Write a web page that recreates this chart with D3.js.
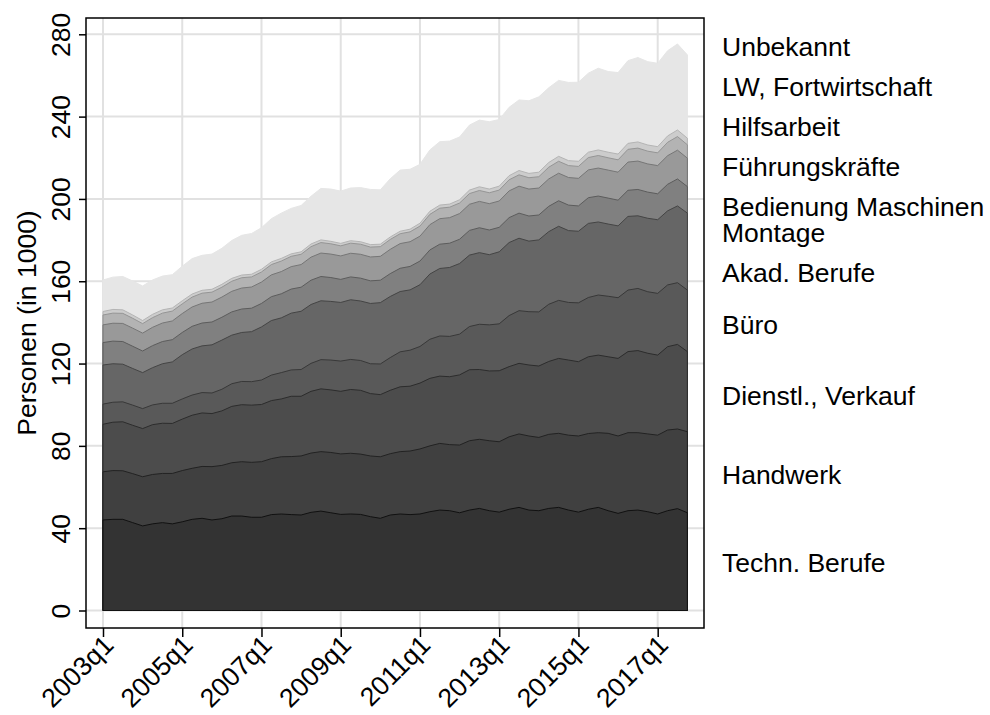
<!DOCTYPE html>
<meta charset="utf-8">
<style>
body { margin: 0; background: #fff; }
text { font-family: "Liberation Sans", Arial, Helvetica, sans-serif; fill: #000; }
</style>

<svg width="990" height="715"></svg>

<script src="https://d3js.org/d3.v7.min.js"></script>
<script>

// quarters 2003q1 .. 2017q4
var years = d3.range(2003, 2018);
var quarters = [];
years.forEach(function(y) {
  [1, 2, 3, 4].forEach(function(q) { quarters.push(y + "q" + q); });
});

var tickLabels = ["2003q1", "2005q1", "2007q1", "2009q1", "2011q1", "2013q1", "2015q1", "2017q1"];
var yTicks = [0, 40, 80, 120, 160, 200, 240, 280];

// persons in 1000, one value per quarter, stacked bottom to top
var techn = [44.0,44.3,44.3,42.7,41.1,42.1,42.7,42.1,43.1,44.3, 44.8,44.0,44.6,45.9,45.9,45.3,45.3,46.6,46.9,46.6,
  46.4,47.7,48.3,47.5,46.7,46.9,46.7,45.6,44.8,46.4, 46.9,46.6,46.9,48.0,48.8,48.5,47.5,48.8,49.6,48.5,
  47.8,49.2,50.1,48.8,48.5,49.6,50.1,48.8,47.8,49.2, 50.1,48.5,47.2,48.5,48.8,48.0,46.9,48.5,49.5,47.5];
var handwerk = [23.4,23.7,23.6,23.8,23.9,24.0,23.9,24.5,24.9,24.8, 25.2,25.9,25.9,25.9,26.4,26.7,27.0,27.2,27.8,28.2,
  28.7,28.8,28.9,29.3,29.4,29.5,29.3,29.5,29.9,29.8, 30.3,30.9,31.6,32.0,32.4,32.1,32.9,33.7,33.6,34.0,
  34.2,35.2,35.7,36.0,35.6,36.0,36.0,36.4,37.0,36.8, 36.3,37.6,37.6,37.9,37.6,37.8,38.3,39.2,38.7,39.4];
var dienstl = [23.1,23.5,23.8,23.5,23.4,24.2,24.4,24.3,25.0,25.8, 26.0,25.8,26.5,27.4,27.7,27.8,27.8,28.2,28.1,29.3,
  29.0,30.0,30.5,30.4,30.4,31.0,31.0,30.3,30.2,30.8, 31.5,31.5,32.0,32.8,32.7,33.0,34.1,34.5,33.9,33.9,
  34.5,34.1,34.3,34.5,34.7,35.4,36.4,36.5,36.1,37.3, 37.7,37.2,37.7,39.4,39.9,39.2,38.9,40.5,41.1,38.9];
var buero = [9.8,9.7,9.7,9.8,9.7,9.6,9.7,9.8,9.8,9.8, 9.9,10.0,10.5,11.0,11.3,11.4,11.9,12.4,12.8,12.8,
  13.0,13.6,14.2,14.5,14.7,14.6,14.5,14.5,14.9,15.9, 17.0,17.5,17.8,19.0,19.5,19.6,19.8,21.0,22.0,22.4,
  22.8,24.8,25.6,25.9,26.3,27.8,28.2,28.0,28.6,28.8, 29.2,29.4,29.5,29.9,30.2,29.9,30.0,30.0,30.0,29.9];
var akad = [19.0,18.7,18.3,17.8,17.5,18.1,19.2,20.1,21.5,22.4, 22.7,23.4,23.9,23.6,23.8,24.3,25.8,26.5,26.6,27.6,
  28.3,28.6,28.6,28.5,28.5,29.0,28.9,29.3,29.8,29.7, 29.3,29.3,30.0,31.7,32.8,33.5,34.3,34.7,34.8,34.1,
  35.0,35.5,35.2,34.3,35.0,35.3,36.0,34.9,34.8,36.0, 35.5,35.1,34.9,35.8,35.3,35.7,35.8,36.0,37.3,37.4];
var bedienung = [10.9,11.0,11.0,10.8, 10.5,10.7,10.8,10.8, 10.8,11.0,11.1,11.1, 11.1,11.3,11.4,11.4, 11.4,11.6,11.7,11.7,
  11.7,11.8,11.8,11.6, 11.2,11.1,11.1,11.0, 10.9,11.1,11.3,11.4, 11.5,11.7,11.8,11.8, 11.8,12.0,12.1,12.0,
  11.9,12.1,12.2,12.2, 12.1,12.3,12.4,12.4, 12.3,12.5,12.6,12.6, 12.5,12.7,12.8,12.7, 12.6,12.9,13.1,12.9];
var fuehrung = [8.6,8.7,8.8,8.8, 8.7,8.9,9.0,9.1, 9.2,9.4,9.6,9.7, 9.8,10.0,10.2,10.3, 10.4,10.6,10.8,10.9,
  11.0,11.2,11.4,11.4, 11.4,11.5,11.6,11.6, 11.6,11.8,12.0,12.0, 12.1,12.3,12.4,12.4, 12.5,12.7,12.8,12.8,
  12.8,13.0,13.1,13.1, 13.1,13.3,13.4,13.4, 13.4,13.5,13.6,13.6, 13.6,13.7,13.8,13.7, 13.7,13.9,14.0,13.8];
var hilfs = [4.8,4.9,4.9,4.8, 4.6,4.7,4.8,4.8, 4.7,4.8,4.9,4.8, 4.8,4.9,5.0,4.9, 4.9,5.0,5.1,5.0,
  5.0,5.1,5.1,5.0, 4.9,4.9,4.9,4.8, 4.7,4.8,4.8,4.8, 4.9,5.0,5.1,5.1, 5.1,5.2,5.3,5.3,
  5.3,5.4,5.5,5.5, 5.5,5.7,5.8,5.8, 5.8,6.0,6.1,6.0, 6.0,6.2,6.3,6.2, 6.2,6.5,6.6,6.5];
var lw = [1.7,1.8,1.7,1.6, 1.5,1.6,1.6,1.5, 1.5,1.5,1.4,1.4, 1.4,1.4,1.3,1.3, 1.3,1.3,1.3,1.2,
  1.2,1.3,1.3,1.2, 1.2,1.2,1.2,1.2, 1.2,1.2,1.2,1.3, 1.4,1.5,1.5,1.5, 1.6,1.7,1.8,1.8,
  1.9,2.0,2.1,2.1, 2.2,2.3,2.4,2.4, 2.5,2.6,2.7,2.7, 2.8,2.9,3.0,3.0, 3.0,3.1,3.2,3.2];
var unbekannt = [15.3,15.7,16.2,16.5,16.8,16.7,16.4,16.2,16.8,17.2, 17.0,17.1,17.5,18.4,19.3,19.8,20.2,21.0,22.0,22.1,
  22.5,23.2,25.0,25.4,25.4,25.6,26.3,26.8,26.4,28.3, 29.7,29.1,28.6,29.8,30.8,30.6,30.5,31.6,32.4,32.7,
  32.4,33.2,34.3,35.3,36.6,36.3,36.9,38.0,38.4,38.4, 39.7,39.2,39.6,40.2,41.0,40.5,40.5,41.4,41.8,40.5];

var seriesNames = ["Techn. Berufe", "Handwerk", "Dienstl., Verkauf", "Büro", "Akad. Berufe",
  "Bedienung Maschinen|Montage", "Führungskräfte", "Hilfsarbeit", "LW, Fortwirtschaft", "Unbekannt"];
var seriesValues = [techn, handwerk, dienstl, buero, akad, bedienung, fuehrung, hilfs, lw, unbekannt];
var fills = ["#333333", "#404040", "#4c4c4c", "#595959", "#666666",
  "#808080", "#999999", "#b3b3b3", "#cccccc", "#e6e6e6"];
var strokes = ["#111111", "#222222", "#2c2c2c", "#383838", "#444444",
  "#5c5c5c", "#767676", "#959595", "#b4b4b4", "#e6e6e6"];

var labelQuarter = "2017q1";

var svg = d3.select("svg");

var frame = { left: 86, right: 704, top: 18, bottom: 628 };
var fontSize = "26.5px";

var x = d3.scalePoint()
  .domain(quarters)
  .range([103, 687.4]);

var y = d3.scaleLinear()
  .domain([0, 280])
  .range([610.5, 34.3]);

var rows = quarters.map(function(q, i) {
  var r = { q: q };
  seriesNames.forEach(function(n, j) { r[n] = seriesValues[j][i]; });
  return r;
});

var stacked = d3.stack().keys(seriesNames)(rows);

// grid
var grid = svg.append("g").attr("stroke", "#e1e1e1").attr("stroke-width", 2);
grid.selectAll("line.h")
  .data(yTicks)
  .enter().append("line")
  .attr("x1", frame.left).attr("x2", frame.right)
  .attr("y1", function(d) { return y(d); })
  .attr("y2", function(d) { return y(d); });
grid.selectAll("line.v")
  .data(tickLabels)
  .enter().append("line")
  .attr("y1", frame.top).attr("y2", frame.bottom)
  .attr("x1", function(d) { return x(d); })
  .attr("x2", function(d) { return x(d); });

// areas: each drawn from 0 to its cumulative top, largest first
var area = d3.area()
  .x(function(d) { return x(d.data.q); })
  .y0(function(d) { return y(0); })
  .y1(function(d) { return y(d[1]); });

svg.append("g")
  .selectAll("path")
  .data(stacked.slice().reverse())
  .enter().append("path")
  .attr("d", area)
  .attr("fill", function(d) { return fills[d.index]; })
  .attr("stroke", function(d) { return strokes[d.index]; })
  .attr("stroke-width", 1)
  .attr("stroke-linejoin", "round");

// frame
svg.append("rect")
  .attr("x", frame.left).attr("y", frame.top)
  .attr("width", frame.right - frame.left)
  .attr("height", frame.bottom - frame.top)
  .attr("fill", "none")
  .attr("stroke", "#000")
  .attr("stroke-width", 1.5);

// y axis
var yAxis = svg.append("g")
  .attr("transform", "translate(" + frame.left + ",0)")
  .call(d3.axisLeft(y).tickValues(yTicks).tickSize(7).tickSizeOuter(0));
yAxis.select(".domain").remove();
yAxis.selectAll("line").attr("stroke", "#000").attr("stroke-width", 1.5);
yAxis.selectAll("text")
  .attr("transform", "rotate(-90)")
  .attr("x", 0)
  .attr("y", -16)
  .attr("dy", 0)
  .attr("text-anchor", "middle")
  .style("font-size", fontSize)
  .style("font-family", "Liberation Sans, Arial, sans-serif");

// x axis
var xAxis = svg.append("g")
  .attr("transform", "translate(0," + frame.bottom + ")")
  .call(d3.axisBottom(x).tickValues(tickLabels).tickSize(9).tickSizeOuter(0));
xAxis.select(".domain").remove();
xAxis.selectAll("line").attr("stroke", "#000").attr("stroke-width", 1.5);
xAxis.selectAll("text")
  .attr("x", 0)
  .attr("y", 0)
  .attr("dy", "0.35em")
  .attr("transform", "translate(5,12) rotate(-45)")
  .attr("text-anchor", "end")
  .style("font-size", fontSize)
  .style("font-family", "Liberation Sans, Arial, sans-serif");

// axis title
svg.append("text")
  .attr("transform", "translate(36," + ((frame.top + frame.bottom) / 2) + ") rotate(-90)")
  .attr("text-anchor", "middle")
  .style("font-size", fontSize)
  .text("Personen (in 1000)");

// series labels at the right, placed at the middle of each band, then spread
var li = quarters.indexOf(labelQuarter);
var lineH = 26, pad = 14, labelTop = 46;
var labels = stacked.map(function(s, j) {
  var lines = seriesNames[j].split("|");
  return { lines: lines, h: lines.length * lineH, cy: y((s[li][0] + s[li][1]) / 2) };
});
for (var k = 1; k < labels.length; k++) {
  var lim = labels[k - 1].cy - (labels[k - 1].h + labels[k].h) / 2 - pad;
  if (labels[k].cy > lim) labels[k].cy = lim;
}
var last = labels.length - 1;
if (labels[last].cy < labelTop) labels[last].cy = labelTop;
for (var k = last - 1; k >= 0; k--) {
  var lim = labels[k + 1].cy + (labels[k + 1].h + labels[k].h) / 2 + pad;
  if (labels[k].cy < lim) labels[k].cy = lim;
}

var lab = svg.append("g")
  .selectAll("text")
  .data(labels)
  .enter().append("text")
  .attr("x", 722)
  .attr("y", function(d) { return d.cy - (d.lines.length - 1) * lineH / 2; })
  .style("font-size", fontSize);
lab.selectAll("tspan")
  .data(function(d) { return d.lines; })
  .enter().append("tspan")
  .attr("x", 722)
  .attr("dy", function(d, i) { return i === 0 ? "0.36em" : lineH; })
  .text(function(d) { return d; });

</script>
